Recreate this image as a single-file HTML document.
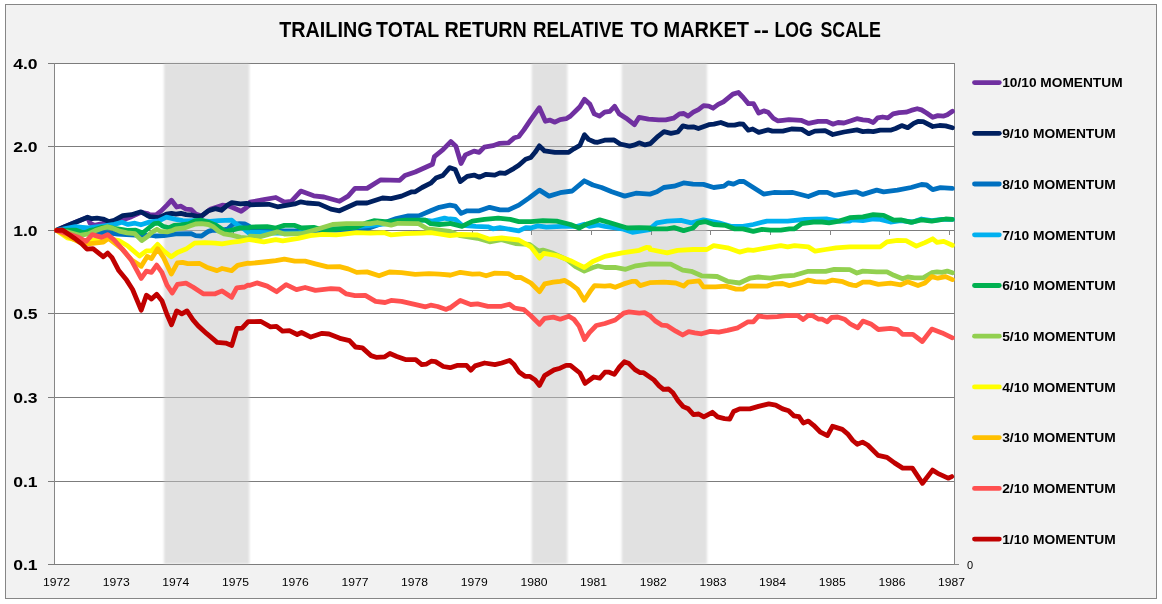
<!DOCTYPE html><html><head><meta charset="utf-8"><style>html,body{margin:0;padding:0;background:#fff}</style></head><body><svg width="1162" height="604" viewBox="0 0 1162 604" style="display:block;font-family:'Liberation Sans',sans-serif">
<defs><filter id="bl" x="-5%" y="-1%" width="110%" height="102%"><feGaussianBlur stdDeviation="0.9"/></filter></defs>
<rect x="0" y="0" width="1162" height="604" fill="#fff"/>
<rect x="5.5" y="4.5" width="1151" height="594" fill="#F2F2F2" stroke="#868686" stroke-width="1"/>
<rect x="54" y="63" width="900" height="501" fill="#fff"/>
<line x1="48" x2="954" y1="63.5" y2="63.5" stroke="#7c7c7c" stroke-width="1"/>
<line x1="48" x2="954" y1="146.5" y2="146.5" stroke="#7c7c7c" stroke-width="1"/>
<line x1="48" x2="954" y1="230.5" y2="230.5" stroke="#7c7c7c" stroke-width="1"/>
<line x1="48" x2="954" y1="313.5" y2="313.5" stroke="#7c7c7c" stroke-width="1"/>
<line x1="48" x2="954" y1="397.5" y2="397.5" stroke="#7c7c7c" stroke-width="1"/>
<line x1="48" x2="954" y1="481.5" y2="481.5" stroke="#7c7c7c" stroke-width="1"/>
<line x1="48" x2="954" y1="564.5" y2="564.5" stroke="#7c7c7c" stroke-width="1"/>
<rect x="164" y="63.2" width="85.30000000000001" height="500.8" fill="#C3C3C3" fill-opacity="0.5" filter="url(#bl)"/>
<rect x="531.8" y="63.2" width="35.5" height="500.8" fill="#C3C3C3" fill-opacity="0.5" filter="url(#bl)"/>
<rect x="621.8" y="63.2" width="85.20000000000005" height="500.8" fill="#C3C3C3" fill-opacity="0.5" filter="url(#bl)"/>
<line x1="54.5" x2="54.5" y1="63" y2="564" stroke="#868686" stroke-width="1"/>
<line x1="954.5" x2="954.5" y1="63" y2="564" stroke="#868686" stroke-width="1"/>
<line x1="954" x2="959" y1="564.5" y2="564.5" stroke="#868686" stroke-width="1"/>
<line x1="54.5" x2="54.5" y1="230" y2="235" stroke="#868686" stroke-width="1"/>
<line x1="114.5" x2="114.5" y1="230" y2="235" stroke="#868686" stroke-width="1"/>
<line x1="173.5" x2="173.5" y1="230" y2="235" stroke="#868686" stroke-width="1"/>
<line x1="233.5" x2="233.5" y1="230" y2="235" stroke="#868686" stroke-width="1"/>
<line x1="293.5" x2="293.5" y1="230" y2="235" stroke="#868686" stroke-width="1"/>
<line x1="352.5" x2="352.5" y1="230" y2="235" stroke="#868686" stroke-width="1"/>
<line x1="412.5" x2="412.5" y1="230" y2="235" stroke="#868686" stroke-width="1"/>
<line x1="472.5" x2="472.5" y1="230" y2="235" stroke="#868686" stroke-width="1"/>
<line x1="531.5" x2="531.5" y1="230" y2="235" stroke="#868686" stroke-width="1"/>
<line x1="591.5" x2="591.5" y1="230" y2="235" stroke="#868686" stroke-width="1"/>
<line x1="651.5" x2="651.5" y1="230" y2="235" stroke="#868686" stroke-width="1"/>
<line x1="710.5" x2="710.5" y1="230" y2="235" stroke="#868686" stroke-width="1"/>
<line x1="770.5" x2="770.5" y1="230" y2="235" stroke="#868686" stroke-width="1"/>
<line x1="830.5" x2="830.5" y1="230" y2="235" stroke="#868686" stroke-width="1"/>
<line x1="889.5" x2="889.5" y1="230" y2="235" stroke="#868686" stroke-width="1"/>
<line x1="949.5" x2="949.5" y1="230" y2="235" stroke="#868686" stroke-width="1"/>
<path d="M56.5,230.3 L63.5,227.3 L75.5,222.3 L87.6,217.4 L90.1,223.2 L94.4,225.3 L102.2,223.6 L105.6,222.5 L109.1,222.3 L114.2,221.5 L119.4,219.0 L125.4,219.0 L131.5,216.7 L140.9,212.3 L147.8,213.7 L150.0,214.8 L156.0,214.8 L161.2,210.9 L167.2,204.9 L171.5,200.2 L176.7,207.0 L181.0,206.2 L186.1,209.2 L191.3,209.6 L195.6,213.9 L201.6,216.1 L210.2,209.3 L217.1,207.0 L222.3,205.2 L227.5,205.6 L232.6,207.5 L241.2,211.3 L246.4,207.5 L249.0,205.3 L250.0,202.2 L263.8,199.6 L275.8,197.5 L284.4,202.2 L291.3,201.3 L300.8,191.1 L313.7,195.8 L324.0,197.0 L339.5,201.3 L348.1,196.1 L355.0,188.4 L367.0,188.4 L380.8,179.8 L399.7,180.3 L404.9,175.5 L415.2,172.0 L432.4,164.3 L434.4,156.6 L443.0,149.7 L450.8,141.6 L455.9,146.3 L461.1,163.5 L465.4,154.9 L474.0,151.1 L479.2,152.3 L484.3,147.1 L492.9,145.7 L499.8,143.3 L508.4,142.8 L514.5,137.7 L518.8,136.5 L523.9,129.9 L530.8,119.6 L539.4,107.7 L545.4,121.3 L549.7,120.1 L554.9,122.2 L560.1,119.6 L566.1,118.7 L570.4,116.1 L575.6,111.0 L579.9,106.7 L584.5,99.4 L590.0,104.4 L594.3,113.9 L599.5,116.1 L604.6,112.2 L609.8,111.3 L614.6,106.3 L619.3,113.9 L626.1,118.2 L634.4,124.7 L639.1,117.3 L648.5,119.1 L658.8,119.9 L665.7,119.9 L673.5,118.2 L679.5,113.9 L683.8,113.5 L688.1,116.1 L693.3,112.2 L698.4,109.6 L703.6,105.7 L708.8,106.1 L713.1,108.2 L718.2,104.4 L723.4,101.8 L732.9,94.1 L738.4,92.5 L743.2,97.5 L748.3,103.6 L753.5,103.6 L758.7,113.0 L763.8,110.9 L768.1,112.2 L773.3,118.2 L777.6,120.8 L782.8,120.3 L788.9,119.6 L801.0,120.3 L808.7,123.4 L818.2,121.3 L826.8,121.3 L832.8,124.2 L838.0,122.5 L844.0,123.0 L850.9,120.8 L856.9,118.7 L862.9,119.9 L868.1,120.3 L873.3,122.5 L877.6,117.8 L882.7,117.0 L887.9,117.8 L893.1,113.9 L899.1,112.7 L906.0,112.2 L911.1,110.4 L917.2,108.7 L921.5,109.9 L926.6,113.0 L932.7,117.3 L937.8,115.6 L943.8,116.1 L947.3,114.8 L952.4,111.3" fill="none" stroke="#7030A0" stroke-width="4.8" stroke-linejoin="round" stroke-linecap="round"/>
<path d="M56.5,230.3 L63.5,227.3 L75.5,222.3 L87.6,217.2 L91.9,218.7 L97.0,218.1 L103.1,219.0 L109.1,221.6 L114.2,220.4 L122.8,215.6 L131.5,214.7 L140.9,211.8 L146.9,215.3 L150.0,216.7 L158.6,217.6 L166.4,214.1 L171.5,213.3 L175.8,214.1 L181.0,213.3 L186.1,214.6 L191.3,215.0 L197.3,216.3 L201.6,215.9 L208.5,210.7 L215.4,208.6 L221.4,210.3 L227.5,205.1 L231.8,202.6 L240.4,203.8 L246.4,203.3 L249.0,203.6 L250.0,204.8 L268.9,204.3 L277.5,206.8 L294.8,203.9 L300.8,201.8 L306.8,203.0 L318.8,203.9 L330.9,209.1 L339.5,210.8 L356.7,203.0 L367.0,203.0 L382.5,198.0 L391.1,198.7 L401.5,196.1 L411.8,191.8 L415.2,191.8 L422.1,187.5 L430.7,183.2 L435.9,178.1 L442.8,175.5 L449.7,167.7 L450.0,167.7 L455.2,169.5 L460.3,181.5 L467.2,176.4 L474.1,175.1 L479.3,177.2 L486.1,174.3 L494.8,175.1 L499.9,172.9 L505.1,173.4 L513.7,168.6 L518.8,165.2 L525.6,159.2 L530.8,157.5 L535.1,152.3 L539.4,145.9 L544.6,150.9 L554.9,152.3 L568.7,152.3 L573.8,148.8 L579.9,145.4 L584.5,134.7 L588.5,139.4 L594.5,142.0 L597.7,142.3 L604.6,140.2 L614.1,140.0 L620.1,144.0 L629.6,146.1 L634.8,144.9 L639.1,142.8 L645.1,144.9 L650.2,143.7 L658.0,136.3 L664.0,131.6 L670.9,133.3 L677.8,132.0 L682.9,125.9 L688.1,127.1 L693.3,126.8 L698.4,128.5 L708.8,124.7 L713.9,124.2 L720.8,122.5 L727.7,125.1 L734.6,125.1 L739.7,123.8 L743.2,124.2 L748.3,130.2 L752.7,129.0 L758.7,132.3 L768.1,129.9 L772.4,131.1 L782.8,131.1 L791.5,129.0 L801.8,129.4 L808.7,133.7 L814.8,131.1 L825.1,130.7 L832.8,134.5 L844.0,132.0 L856.9,129.9 L862.9,131.6 L868.1,131.1 L873.3,131.6 L880.2,130.2 L890.5,130.2 L895.6,128.5 L901.7,125.6 L907.7,127.7 L913.7,123.4 L918.0,121.5 L923.2,121.6 L932.7,126.5 L939.5,125.5 L945.6,125.9 L952.4,127.7" fill="none" stroke="#002060" stroke-width="4.8" stroke-linejoin="round" stroke-linecap="round"/>
<path d="M56.5,230.3 L79.8,231.6 L109.1,232.9 L117.7,234.2 L140.1,235.4 L150.0,235.1 L155.2,236.0 L163.8,235.6 L175.8,233.9 L191.3,233.7 L195.6,235.6 L201.6,236.0 L208.5,231.3 L212.8,230.2 L220.6,230.4 L227.5,229.2 L232.6,224.4 L239.5,223.6 L244.7,224.0 L249.0,226.1 L250.0,228.8 L272.4,230.6 L298.2,230.9 L339.5,230.2 L367.0,228.8 L396.3,218.5 L408.3,215.9 L418.7,215.9 L430.7,210.8 L439.3,207.3 L449.7,205.1 L450.0,205.1 L455.2,206.1 L461.2,213.4 L467.2,210.8 L479.3,210.8 L489.6,207.3 L499.9,209.9 L508.5,209.9 L518.8,205.1 L529.2,197.9 L539.5,190.1 L549.0,196.1 L560.2,192.7 L572.2,191.0 L584.3,180.8 L592.9,185.0 L601.5,187.5 L611.8,191.8 L624.7,196.1 L635.9,193.2 L649.7,194.1 L650.0,194.1 L656.9,191.8 L663.8,187.5 L674.1,186.2 L683.6,182.9 L693.0,184.1 L703.4,184.4 L713.7,187.5 L724.0,186.2 L728.3,182.9 L733.5,184.1 L739.5,181.3 L743.8,181.5 L753.3,187.5 L763.6,194.1 L773.9,192.5 L782.5,192.7 L792.9,192.5 L808.3,196.5 L818.7,192.4 L827.3,192.4 L834.2,195.3 L849.7,192.7 L856.1,191.8 L862.9,194.4 L876.7,190.1 L883.6,191.8 L897.4,190.1 L911.1,187.5 L921.5,184.5 L926.6,185.0 L932.7,189.6 L940.4,187.7 L952.4,188.4" fill="none" stroke="#0070C0" stroke-width="4.8" stroke-linejoin="round" stroke-linecap="round"/>
<path d="M56.5,230.3 L75.5,226.6 L82.4,227.4 L88.4,228.0 L102.2,226.1 L114.2,224.4 L122.0,222.3 L128.0,224.4 L134.9,223.2 L140.9,224.8 L150.0,221.9 L158.6,221.0 L166.4,217.2 L175.8,219.3 L182.7,220.6 L188.7,221.0 L193.0,220.6 L201.6,221.0 L210.2,221.5 L218.8,220.6 L231.8,220.2 L236.1,224.0 L239.5,226.2 L244.7,229.6 L249.0,233.1 L250.0,232.3 L260.3,232.3 L275.8,233.1 L298.2,233.1 L318.8,228.8 L353.3,227.1 L387.7,223.7 L422.1,219.9 L432.4,221.1 L444.5,218.2 L449.7,219.4 L450.0,219.0 L455.2,219.4 L462.0,225.4 L475.8,226.3 L487.9,226.8 L493.0,228.8 L499.9,227.6 L518.8,230.9 L525.7,227.6 L530.9,228.0 L537.8,225.9 L546.4,227.1 L561.9,226.3 L577.4,226.3 L584.3,224.2 L589.4,226.3 L598.0,225.0 L604.9,226.3 L622.1,228.8 L632.4,232.3 L649.7,229.7 L650.0,228.8 L656.9,222.8 L667.2,221.1 L681.0,220.4 L691.3,222.8 L703.4,219.9 L718.8,222.8 L730.9,226.3 L742.9,226.3 L753.3,224.5 L767.0,221.1 L787.7,221.1 L804.9,219.4 L827.3,219.0 L839.3,221.1 L849.7,221.1 L852.6,219.9 L862.9,220.6 L873.3,219.0 L880.2,219.4 L890.5,222.0 L900.8,220.7 L912.9,222.0 L921.5,219.0 L931.8,220.6 L942.1,219.4 L952.4,219.4" fill="none" stroke="#00B0F0" stroke-width="4.8" stroke-linejoin="round" stroke-linecap="round"/>
<path d="M56.5,230.3 L75.5,230.1 L84.1,233.0 L90.1,230.4 L94.4,229.6 L102.2,227.4 L109.1,227.2 L114.2,228.3 L119.4,229.1 L127.1,230.4 L135.8,230.2 L142.6,233.0 L150.0,227.0 L154.3,223.6 L158.6,223.2 L162.9,226.2 L168.9,227.9 L174.1,225.3 L181.0,224.9 L188.7,224.0 L194.8,221.0 L201.6,220.2 L208.5,222.3 L215.4,224.9 L218.8,227.0 L224.9,231.3 L231.8,230.1 L240.4,227.9 L249.0,227.9 L250.0,227.1 L267.2,226.7 L275.8,228.0 L284.4,225.4 L294.8,225.4 L301.6,228.0 L313.7,227.3 L322.3,229.7 L332.6,229.7 L344.7,228.0 L356.7,227.1 L367.0,222.8 L373.9,220.7 L387.7,222.0 L404.9,220.2 L415.2,220.2 L425.6,220.2 L430.7,223.7 L439.3,224.5 L449.7,223.7 L450.0,223.3 L462.0,226.3 L472.4,221.1 L484.4,219.4 L498.2,218.2 L510.2,219.4 L518.8,221.6 L530.9,221.6 L542.9,220.7 L556.7,221.1 L570.5,224.5 L579.1,228.0 L587.7,223.7 L599.7,219.9 L610.1,222.8 L627.3,228.0 L639.3,227.6 L649.7,228.0 L650.0,228.8 L667.2,228.8 L674.1,227.6 L683.6,230.6 L693.0,228.0 L698.2,222.8 L705.1,221.6 L713.7,224.5 L725.7,225.4 L734.3,228.8 L742.9,228.8 L753.3,231.4 L761.9,229.3 L770.5,230.2 L780.8,230.2 L789.4,228.8 L794.6,228.8 L801.5,223.7 L813.5,222.0 L822.1,222.0 L829.0,222.8 L839.3,221.1 L849.7,217.7 L862.9,216.8 L873.3,214.7 L883.6,215.4 L893.9,220.2 L900.8,219.8 L911.1,222.3 L921.5,219.9 L931.8,221.1 L945.6,219.0 L952.4,219.4" fill="none" stroke="#00B050" stroke-width="4.8" stroke-linejoin="round" stroke-linecap="round"/>
<path d="M56.5,230.3 L66.9,231.8 L79.8,235.4 L88.4,233.9 L95.3,230.6 L102.2,228.3 L107.4,226.7 L112.5,228.1 L119.4,231.1 L127.1,232.9 L134.9,233.7 L141.8,240.6 L147.8,236.3 L150.0,233.9 L153.4,231.3 L156.9,229.3 L160.3,231.3 L167.2,231.8 L172.4,230.5 L175.8,228.8 L184.4,227.9 L190.4,225.8 L195.6,224.0 L201.6,223.6 L208.5,224.5 L213.7,227.0 L218.8,231.3 L224.0,233.9 L231.8,235.2 L240.4,237.4 L249.0,238.2 L250.0,236.2 L260.3,236.6 L277.5,231.9 L284.4,234.0 L301.6,233.7 L318.8,228.8 L332.6,224.5 L346.4,223.7 L356.7,223.7 L370.5,223.7 L377.4,222.5 L391.1,225.1 L398.0,223.3 L418.7,223.7 L427.3,228.8 L439.3,230.2 L449.7,231.4 L450.0,231.4 L460.3,235.7 L477.5,238.3 L489.6,241.8 L501.6,239.7 L515.4,243.5 L529.2,244.3 L538.6,251.2 L542.9,250.1 L553.3,253.4 L567.0,259.6 L575.6,266.7 L584.3,271.0 L592.9,267.5 L598.0,266.0 L604.9,267.5 L615.2,267.4 L625.6,269.3 L635.9,265.8 L649.7,263.8 L650.0,263.8 L670.7,264.1 L682.7,270.1 L691.3,271.3 L701.6,275.8 L717.1,276.5 L727.5,281.3 L739.5,283.0 L749.8,278.2 L758.4,277.0 L770.5,278.2 L782.5,276.1 L794.6,275.3 L808.3,271.3 L825.6,271.3 L834.2,269.4 L849.7,269.6 L856.9,273.0 L862.9,271.1 L876.7,271.8 L887.0,271.8 L893.9,275.3 L902.5,278.7 L907.7,277.0 L914.6,277.9 L923.2,277.9 L931.8,272.7 L937.0,271.8 L942.1,272.4 L947.3,271.1 L952.4,272.7" fill="none" stroke="#92D050" stroke-width="4.8" stroke-linejoin="round" stroke-linecap="round"/>
<path d="M56.5,230.3 L67.2,237.9 L84.4,241.4 L106.8,238.4 L118.8,240.5 L127.5,245.7 L139.5,256.0 L146.4,250.8 L151.5,250.8 L157.6,244.4 L163.6,250.8 L171.3,256.8 L177.4,252.5 L186.0,249.1 L194.6,243.1 L204.9,242.6 L215.2,243.1 L222.1,243.9 L232.4,242.2 L239.3,241.4 L247.9,239.6 L250.0,239.6 L263.8,241.8 L275.8,239.7 L282.7,240.9 L298.2,238.3 L310.2,235.7 L322.3,234.4 L336.1,234.9 L356.7,232.7 L370.5,233.1 L384.3,232.7 L391.1,234.9 L404.9,233.7 L422.1,233.1 L430.7,232.7 L439.3,234.0 L449.7,235.7 L450.0,235.7 L460.3,234.5 L477.5,235.0 L489.6,239.2 L501.6,238.0 L518.8,240.0 L530.9,246.9 L539.5,258.1 L543.8,253.4 L556.7,255.5 L570.5,260.7 L577.4,264.1 L584.3,267.5 L592.9,261.5 L604.9,256.4 L622.1,252.9 L639.3,250.3 L646.2,247.5 L649.7,247.7 L650.0,249.5 L667.2,252.9 L677.5,250.4 L693.0,249.5 L706.8,249.5 L713.7,245.7 L727.5,247.8 L739.5,252.1 L748.1,249.9 L753.3,250.4 L767.0,247.8 L780.8,245.7 L787.7,246.9 L794.6,245.7 L808.3,246.9 L815.2,251.2 L825.6,249.5 L835.9,247.8 L849.7,246.9 L859.5,246.9 L880.2,246.9 L887.0,241.8 L897.4,240.3 L906.0,240.6 L916.3,246.1 L924.9,242.6 L932.7,238.8 L937.0,242.3 L943.8,241.4 L952.4,245.2" fill="none" stroke="#FFFF00" stroke-width="4.8" stroke-linejoin="round" stroke-linecap="round"/>
<path d="M56.5,230.3 L67.2,236.2 L79.3,242.2 L87.9,243.9 L103.4,242.2 L108.5,238.4 L122.3,249.1 L130.9,259.4 L141.2,266.3 L147.2,256.5 L151.5,258.6 L157.6,248.7 L163.6,257.7 L171.3,274.1 L177.4,262.9 L182.5,262.4 L187.7,263.7 L199.7,263.5 L206.6,267.2 L217.0,270.6 L222.1,268.5 L231.6,270.6 L237.6,265.4 L247.9,263.1 L250.0,263.4 L263.8,262.0 L275.8,260.7 L284.4,259.1 L294.8,261.2 L305.1,261.2 L315.4,263.8 L327.5,266.9 L339.5,266.6 L348.1,268.9 L356.7,272.4 L367.0,271.9 L379.1,275.8 L389.4,272.0 L401.5,272.7 L415.2,274.4 L429.0,273.7 L439.3,274.1 L449.7,275.0 L450.0,275.3 L460.3,272.3 L472.4,274.1 L479.3,273.8 L486.1,275.8 L494.8,273.1 L508.5,273.6 L515.4,277.5 L520.6,277.3 L530.9,283.0 L539.5,291.6 L544.7,283.9 L553.3,282.2 L560.2,281.3 L564.5,280.4 L570.5,283.9 L577.4,289.1 L584.3,300.2 L591.1,289.9 L594.6,285.6 L604.9,286.1 L610.1,285.6 L615.2,287.3 L623.8,283.9 L632.4,281.3 L635.9,281.3 L640.2,285.6 L649.7,282.7 L650.0,282.7 L663.8,282.2 L675.8,283.0 L683.6,286.1 L687.9,282.2 L699.1,280.9 L703.4,286.8 L715.4,286.8 L725.7,286.1 L736.1,289.1 L742.9,289.1 L748.1,285.9 L767.0,286.1 L773.9,283.9 L782.5,283.5 L789.4,285.6 L801.5,282.7 L808.3,280.1 L815.2,281.7 L825.6,282.2 L832.4,280.1 L842.8,281.7 L849.7,284.4 L852.6,285.1 L856.1,285.6 L862.9,282.2 L869.8,282.2 L878.4,284.4 L890.5,283.2 L900.8,284.8 L907.7,281.8 L918.0,285.6 L924.9,283.0 L931.8,276.6 L937.8,278.2 L945.6,276.6 L952.4,279.6" fill="none" stroke="#FFC000" stroke-width="4.8" stroke-linejoin="round" stroke-linecap="round"/>
<path d="M56.5,230.3 L67.2,233.6 L77.5,237.0 L86.1,241.4 L92.2,234.6 L101.6,237.4 L107.7,234.6 L113.7,239.5 L122.3,249.1 L130.9,259.4 L141.2,278.4 L146.4,271.1 L151.5,272.3 L156.7,265.1 L161.9,272.3 L167.0,285.2 L172.2,293.0 L177.4,284.4 L186.0,283.2 L192.9,287.0 L203.2,293.8 L215.2,293.8 L222.1,290.9 L231.6,297.3 L236.7,287.8 L244.5,287.0 L247.9,285.1 L250.0,285.3 L256.9,282.9 L267.2,286.1 L276.7,291.7 L286.1,284.6 L296.5,289.6 L305.1,287.5 L315.4,290.4 L330.9,288.7 L339.5,289.2 L346.4,293.9 L355.0,295.6 L365.3,295.4 L375.6,301.3 L385.1,302.5 L391.1,300.4 L401.5,301.3 L425.6,306.8 L430.7,305.2 L437.6,306.5 L446.2,309.4 L449.7,307.8 L450.0,308.0 L460.3,300.4 L470.7,304.5 L477.5,303.8 L487.9,306.3 L501.6,306.3 L509.4,304.2 L514.5,308.0 L524.0,309.7 L530.9,315.7 L539.5,324.3 L544.7,318.3 L553.3,317.1 L560.2,319.2 L568.8,316.2 L573.9,319.2 L579.1,326.1 L584.6,339.5 L589.4,332.6 L596.3,325.5 L604.9,323.5 L615.2,320.0 L623.8,313.1 L629.0,311.9 L639.3,313.1 L644.5,312.7 L649.7,315.7 L650.0,315.7 L655.2,320.9 L662.0,325.2 L667.2,325.7 L675.8,331.2 L682.7,335.0 L688.7,331.7 L694.8,332.9 L701.6,333.8 L710.2,331.4 L718.8,332.1 L727.5,330.4 L737.8,327.8 L748.1,321.8 L753.3,321.8 L758.4,316.2 L767.0,317.1 L777.4,316.6 L786.0,315.7 L798.0,315.7 L803.2,319.5 L808.3,315.3 L812.7,315.7 L818.7,319.2 L822.1,319.2 L827.3,321.8 L831.6,317.5 L837.6,317.0 L844.5,319.2 L849.7,323.5 L852.6,325.2 L857.8,327.8 L862.9,321.1 L871.5,324.3 L878.4,329.5 L890.5,328.3 L897.4,329.5 L902.5,334.3 L912.9,334.3 L922.3,341.5 L931.8,329.1 L942.1,332.9 L952.4,337.8" fill="none" stroke="#FF5050" stroke-width="4.8" stroke-linejoin="round" stroke-linecap="round"/>
<path d="M56.5,230.3 L62.4,230.0 L74.1,237.9 L81.8,243.9 L87.0,249.1 L93.0,248.7 L103.4,256.8 L107.7,253.0 L112.0,257.7 L118.8,270.6 L126.6,280.1 L132.6,289.5 L141.2,310.2 L146.4,295.2 L151.5,299.0 L156.7,294.3 L161.9,300.7 L167.0,314.5 L171.5,324.7 L176.7,310.9 L181.8,313.9 L187.0,310.9 L193.0,319.9 L198.2,325.9 L206.8,333.7 L217.1,342.3 L225.7,343.1 L231.8,345.4 L236.9,328.5 L242.1,328.2 L248.1,321.6 L261.0,321.5 L270.5,326.8 L276.5,326.4 L282.5,331.1 L289.4,330.7 L297.2,334.5 L301.5,332.5 L310.9,337.1 L322.1,333.3 L329.0,334.0 L339.3,338.0 L340.0,338.4 L349.5,340.6 L355.5,347.0 L362.4,347.9 L371.0,355.6 L376.1,357.3 L384.8,356.8 L389.9,353.5 L396.8,356.5 L405.4,359.6 L415.7,359.6 L421.8,364.7 L426.1,364.2 L431.2,361.2 L435.5,361.6 L443.3,366.5 L450.2,367.7 L457.0,365.4 L466.5,365.4 L470.8,370.2 L475.1,365.9 L484.6,363.0 L494.9,364.7 L501.8,363.0 L509.5,360.4 L513.8,364.2 L519.0,372.0 L525.0,376.3 L529.3,376.3 L530.0,376.5 L535.2,379.9 L539.5,385.4 L544.6,375.6 L554.1,369.9 L560.1,368.2 L566.1,365.3 L570.4,365.3 L579.9,373.0 L585.1,383.4 L593.7,377.0 L599.7,378.2 L604.9,372.2 L609.2,372.2 L614.3,374.4 L619.5,367.0 L624.3,361.8 L629.0,363.6 L635.0,369.6 L640.2,372.7 L643.6,372.7 L653.9,379.9 L659.1,385.9 L663.4,389.4 L668.6,389.0 L672.9,392.8 L678.0,400.6 L683.2,406.6 L688.3,408.8 L693.5,414.7 L698.7,414.0 L703.8,416.9 L712.4,412.3 L717.6,416.9 L724.5,418.6 L729.7,419.2 L733.6,411.5 L739.6,408.9 L749.9,408.9 L758.5,406.4 L768.8,403.9 L775.7,405.1 L782.6,408.9 L788.6,410.7 L793.8,415.8 L799.0,416.7 L803.3,423.0 L808.4,421.1 L813.6,425.3 L820.5,432.2 L827.4,435.6 L832.5,426.3 L832.7,426.4 L842.3,429.4 L847.6,433.8 L852.8,440.5 L857.2,444.3 L862.5,442.1 L867.7,445.0 L878.1,455.4 L887.0,457.4 L894.5,462.9 L902.7,468.1 L912.4,468.1 L922.5,483.3 L932.5,470.1 L937.7,473.3 L948.1,478.2 L951.8,476.6" fill="none" stroke="#C00000" stroke-width="4.8" stroke-linejoin="round" stroke-linecap="round"/>
<g opacity="0.999">
<text x="279.3" y="37.1" font-size="22.2" font-weight="bold" fill="#000" textLength="93.2" lengthAdjust="spacingAndGlyphs">TRAILING</text>
<text x="376.1" y="37.1" font-size="22.2" font-weight="bold" fill="#000" textLength="63.2" lengthAdjust="spacingAndGlyphs">TOTAL</text>
<text x="444.6" y="37.1" font-size="22.2" font-weight="bold" fill="#000" textLength="82.3" lengthAdjust="spacingAndGlyphs">RETURN</text>
<text x="533.0" y="37.1" font-size="22.2" font-weight="bold" fill="#000" textLength="90.8" lengthAdjust="spacingAndGlyphs">RELATIVE</text>
<text x="630.4" y="37.1" font-size="22.2" font-weight="bold" fill="#000" textLength="28.2" lengthAdjust="spacingAndGlyphs">TO</text>
<text x="663.5" y="37.1" font-size="22.2" font-weight="bold" fill="#000" textLength="85.5" lengthAdjust="spacingAndGlyphs">MARKET</text>
<text x="753.7" y="37.1" font-size="22.2" font-weight="bold" fill="#000" textLength="15.2" lengthAdjust="spacingAndGlyphs">--</text>
<text x="774.5" y="37.1" font-size="22.2" font-weight="bold" fill="#000" textLength="38.2" lengthAdjust="spacingAndGlyphs">LOG</text>
<text x="820.5" y="37.1" font-size="22.2" font-weight="bold" fill="#000" textLength="60.3" lengthAdjust="spacingAndGlyphs">SCALE</text>
<text x="13.2" y="68.6" font-size="15.0" font-weight="bold" fill="#000" textLength="24.4" lengthAdjust="spacingAndGlyphs">4.0</text>
<text x="13.2" y="151.6" font-size="15.0" font-weight="bold" fill="#000" textLength="24.4" lengthAdjust="spacingAndGlyphs">2.0</text>
<text x="13.2" y="235.6" font-size="15.0" font-weight="bold" fill="#000" textLength="24.4" lengthAdjust="spacingAndGlyphs">1.0</text>
<text x="13.2" y="318.6" font-size="15.0" font-weight="bold" fill="#000" textLength="24.4" lengthAdjust="spacingAndGlyphs">0.5</text>
<text x="13.2" y="402.6" font-size="15.0" font-weight="bold" fill="#000" textLength="24.4" lengthAdjust="spacingAndGlyphs">0.3</text>
<text x="13.2" y="486.6" font-size="15.0" font-weight="bold" fill="#000" textLength="24.4" lengthAdjust="spacingAndGlyphs">0.1</text>
<text x="13.2" y="569.6" font-size="15.0" font-weight="bold" fill="#000" textLength="24.4" lengthAdjust="spacingAndGlyphs">0.1</text>
<text x="56.5" y="585.8" text-anchor="middle" font-size="11" fill="#000" textLength="27" lengthAdjust="spacingAndGlyphs">1972</text>
<text x="116.2" y="585.8" text-anchor="middle" font-size="11" fill="#000" textLength="27" lengthAdjust="spacingAndGlyphs">1973</text>
<text x="175.8" y="585.8" text-anchor="middle" font-size="11" fill="#000" textLength="27" lengthAdjust="spacingAndGlyphs">1974</text>
<text x="235.5" y="585.8" text-anchor="middle" font-size="11" fill="#000" textLength="27" lengthAdjust="spacingAndGlyphs">1975</text>
<text x="295.2" y="585.8" text-anchor="middle" font-size="11" fill="#000" textLength="27" lengthAdjust="spacingAndGlyphs">1976</text>
<text x="354.9" y="585.8" text-anchor="middle" font-size="11" fill="#000" textLength="27" lengthAdjust="spacingAndGlyphs">1977</text>
<text x="414.5" y="585.8" text-anchor="middle" font-size="11" fill="#000" textLength="27" lengthAdjust="spacingAndGlyphs">1978</text>
<text x="474.2" y="585.8" text-anchor="middle" font-size="11" fill="#000" textLength="27" lengthAdjust="spacingAndGlyphs">1979</text>
<text x="533.9" y="585.8" text-anchor="middle" font-size="11" fill="#000" textLength="27" lengthAdjust="spacingAndGlyphs">1980</text>
<text x="593.5" y="585.8" text-anchor="middle" font-size="11" fill="#000" textLength="27" lengthAdjust="spacingAndGlyphs">1981</text>
<text x="653.2" y="585.8" text-anchor="middle" font-size="11" fill="#000" textLength="27" lengthAdjust="spacingAndGlyphs">1982</text>
<text x="712.9" y="585.8" text-anchor="middle" font-size="11" fill="#000" textLength="27" lengthAdjust="spacingAndGlyphs">1983</text>
<text x="772.5" y="585.8" text-anchor="middle" font-size="11" fill="#000" textLength="27" lengthAdjust="spacingAndGlyphs">1984</text>
<text x="832.2" y="585.8" text-anchor="middle" font-size="11" fill="#000" textLength="27" lengthAdjust="spacingAndGlyphs">1985</text>
<text x="891.9" y="585.8" text-anchor="middle" font-size="11" fill="#000" textLength="27" lengthAdjust="spacingAndGlyphs">1986</text>
<text x="951.6" y="585.8" text-anchor="middle" font-size="11" fill="#000" textLength="27" lengthAdjust="spacingAndGlyphs">1987</text>
<text x="967" y="568.8" font-size="11" fill="#000">0</text>
<line x1="974.5" x2="999.3" y1="82.6" y2="82.6" stroke="#7030A0" stroke-width="4.8" stroke-linecap="round"/>
<text x="1002.2" y="87.3" font-size="12.8" font-weight="bold" fill="#000" textLength="120.4" lengthAdjust="spacingAndGlyphs">10/10 MOMENTUM</text>
<line x1="974.5" x2="999.3" y1="133.3" y2="133.3" stroke="#002060" stroke-width="4.8" stroke-linecap="round"/>
<text x="1002.2" y="138.0" font-size="12.8" font-weight="bold" fill="#000" textLength="113.6" lengthAdjust="spacingAndGlyphs">9/10 MOMENTUM</text>
<line x1="974.5" x2="999.3" y1="184.0" y2="184.0" stroke="#0070C0" stroke-width="4.8" stroke-linecap="round"/>
<text x="1002.2" y="188.7" font-size="12.8" font-weight="bold" fill="#000" textLength="113.6" lengthAdjust="spacingAndGlyphs">8/10 MOMENTUM</text>
<line x1="974.5" x2="999.3" y1="234.8" y2="234.8" stroke="#00B0F0" stroke-width="4.8" stroke-linecap="round"/>
<text x="1002.2" y="239.5" font-size="12.8" font-weight="bold" fill="#000" textLength="113.6" lengthAdjust="spacingAndGlyphs">7/10 MOMENTUM</text>
<line x1="974.5" x2="999.3" y1="285.5" y2="285.5" stroke="#00B050" stroke-width="4.8" stroke-linecap="round"/>
<text x="1002.2" y="290.2" font-size="12.8" font-weight="bold" fill="#000" textLength="113.6" lengthAdjust="spacingAndGlyphs">6/10 MOMENTUM</text>
<line x1="974.5" x2="999.3" y1="336.2" y2="336.2" stroke="#92D050" stroke-width="4.8" stroke-linecap="round"/>
<text x="1002.2" y="340.9" font-size="12.8" font-weight="bold" fill="#000" textLength="113.6" lengthAdjust="spacingAndGlyphs">5/10 MOMENTUM</text>
<line x1="974.5" x2="999.3" y1="386.9" y2="386.9" stroke="#FFFF00" stroke-width="4.8" stroke-linecap="round"/>
<text x="1002.2" y="391.6" font-size="12.8" font-weight="bold" fill="#000" textLength="113.6" lengthAdjust="spacingAndGlyphs">4/10 MOMENTUM</text>
<line x1="974.5" x2="999.3" y1="437.6" y2="437.6" stroke="#FFC000" stroke-width="4.8" stroke-linecap="round"/>
<text x="1002.2" y="442.3" font-size="12.8" font-weight="bold" fill="#000" textLength="113.6" lengthAdjust="spacingAndGlyphs">3/10 MOMENTUM</text>
<line x1="974.5" x2="999.3" y1="488.4" y2="488.4" stroke="#FF5050" stroke-width="4.8" stroke-linecap="round"/>
<text x="1002.2" y="493.1" font-size="12.8" font-weight="bold" fill="#000" textLength="113.6" lengthAdjust="spacingAndGlyphs">2/10 MOMENTUM</text>
<line x1="974.5" x2="999.3" y1="539.1" y2="539.1" stroke="#C00000" stroke-width="4.8" stroke-linecap="round"/>
<text x="1002.2" y="543.8" font-size="12.8" font-weight="bold" fill="#000" textLength="113.6" lengthAdjust="spacingAndGlyphs">1/10 MOMENTUM</text>
</g>
</svg></body></html>
